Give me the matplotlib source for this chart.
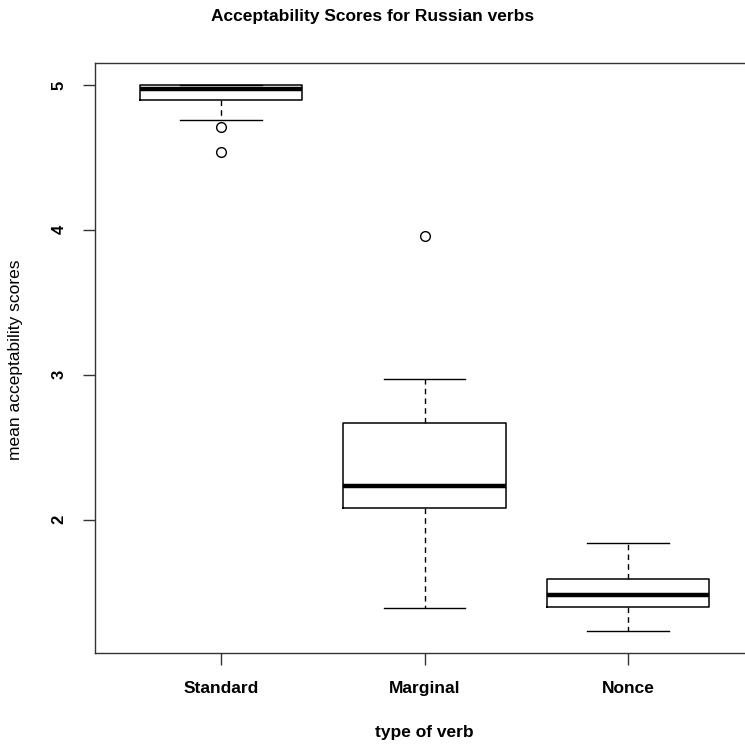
import matplotlib
matplotlib.use("Agg")
import matplotlib.pyplot as plt

categories = ["Standard", "Marginal", "Nonce"]
whisker_low = [4.76, 1.39, 1.23]
q1 = [4.90, 2.08, 1.40]
median = [4.975, 2.23, 1.48]
q3 = [5.00, 2.67, 1.59]
whisker_high = [5.00, 2.97, 1.84]
outliers = [[4.71, 4.54], [3.96], []]

plt.rcParams['font.family'] = ['Liberation Sans', 'DejaVu Sans']

fig = plt.figure(figsize=(7.45, 7.45), dpi=100)
W = H = 745.0
left, right, top, bottom = 95, 754, 63, 653
ax = fig.add_axes([left / W, (H - bottom) / H, (right - left) / W, (bottom - top) / H])

stats = []
for i, c in enumerate(categories):
    stats.append(dict(label=c, whislo=whisker_low[i], q1=q1[i], med=median[i],
                      q3=q3[i], whishi=whisker_high[i], fliers=outliers[i]))

ax.bxp(stats, positions=[1, 2, 3], widths=0.8, showfliers=True,
       boxprops=dict(color='black', linewidth=1.1),
       medianprops=dict(color='black', linewidth=3.2, solid_capstyle='butt'),
       whiskerprops=dict(color='black', linewidth=1.0, linestyle=(0, (4, 3))),
       capprops=dict(color='black', linewidth=1.0),
       capwidths=0.4,
       flierprops=dict(marker='o', markersize=7, markerfacecolor='none',
                       markeredgecolor='black', markeredgewidth=1.0))

ax.set_xlim(0.38, 3.62)
ax.set_ylim(1.079, 5.152)
ax.set_yticks([2, 3, 4, 5])
ax.set_yticklabels(['2', '3', '4', '5'], rotation=90, va='center',
                   fontsize=12, fontweight='bold')
ax.set_xticks([1, 2, 3])
ax.set_xticklabels(categories, fontsize=12.5, fontweight='bold')
ax.tick_params(axis='both', length=8.5, width=1.0, color='#333333', pad=12)
for s in ax.spines.values():
    s.set_color('#333333')
    s.set_linewidth(1.0)

fig.text(373 / W, 1 - 17 / H, "Acceptability Scores for Russian verbs",
         ha='center', va='center', fontsize=12.5, fontweight='bold')
fig.text(424 / W, 1 - 733 / H, "type of verb", ha='center', va='center',
         fontsize=12.5, fontweight='bold')
fig.text(16 / W, 1 - 360 / H, "mean acceptability scores", ha='center', va='center',
         rotation=90, fontsize=12.5)

fig.savefig("out.png", dpi=100)
